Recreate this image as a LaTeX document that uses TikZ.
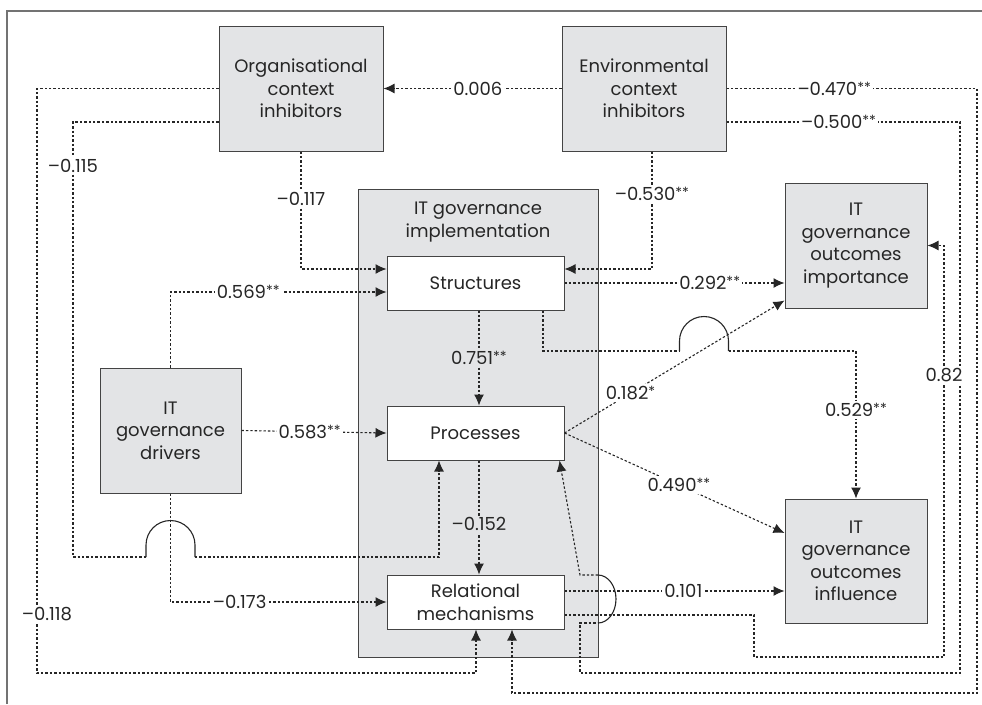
\documentclass[tikz,border=0pt]{standalone}
\usepackage{fontspec}
\setmainfont{Poppins}
\usetikzlibrary{arrows.meta,calc}
\definecolor{boxgrey}{RGB}{227,228,230}
\definecolor{boxline}{RGB}{68,68,68}
\definecolor{txtgrey}{RGB}{38,38,38}
\newcommand{\sig}[1]{\raisebox{3pt}{\fontsize{14}{14}\selectfont #1}}

\tikzset{
    box/.style={draw=boxline, fill=boxgrey, line width=1pt, align=center, inner sep=0pt},
    inbox/.style={draw=boxline, fill=white, line width=1pt, align=center, inner sep=0pt,
        minimum width=177pt, minimum height=54pt},
    link/.style={line width=1.1pt, dash pattern=on 2.4pt off 2pt, txtgrey},
    arr/.style={-{Latex[length=11pt,width=10pt]}},
    hop/.style={line width=1.1pt, txtgrey},
    lbl/.style={fill=white, inner sep=2pt},
    lblin/.style={fill=boxgrey, inner sep=2pt},
}

\begin{document}
\begin{tikzpicture}[x=1pt, y=-1pt,
    every node/.style={font=\fontsize{18}{22.5}\selectfont, text=txtgrey}]
    \useasboundingbox (0,0) rectangle (982,704);
    \draw[line width=1.2pt, black!55] (7,704) -- (7,11) -- (982,11);

    % context and drivers
    \node[box, minimum width=164pt, minimum height=125pt] (org) at (301,88.5) {Organisational\\context\\inhibitors};
    \node[box, minimum width=164pt, minimum height=125pt] (env) at (644,88.5) {Environmental\\context\\inhibitors};
    \node[box, minimum width=141pt, minimum height=125pt] (drv) at (170.5,430.5) {IT\\governance\\drivers};

    % outcomes
    \node[box, minimum width=142pt, minimum height=125pt] (imp) at (856,245.5) {IT\\governance\\outcomes\\importance};
    \node[box, minimum width=142pt, minimum height=124pt] (inf) at (856,561) {IT\\governance\\outcomes\\influence};

    % implementation
    \node[box, minimum width=240pt, minimum height=468pt] (impl) at (478,423) {};
    \node[align=center] (impltitle) at (478,222) {IT governance\\implementation};
    \node[inbox] (str) at (475.5,283) {Structures};
    \node[inbox] (pro) at (475.5,433) {Processes};
    \node[inbox] (rel) at (475.5,602) {Relational\\mechanisms};

    % hops
    \coordinate (hopA) at (170.5,557);
    \coordinate (hopB) at (704,351);
    \coordinate (hopC) at (598,599);

    \draw[link, arr] (env.west) -- node[lbl, pos=0.47] {0.006} (org.east);
    \draw[link, arr] (org.south) |- node[lbl, pos=0.2] {–0.117} ([yshift=14pt]str.west);
    \draw[link, arr] (drv.north) |- node[lbl, pos=0.68] {0.569\sig{**}} ([yshift=-9pt]str.west);
    \draw[link, arr] (drv.east) -- node[lbl, pos=0.47] {0.583\sig{**}} (pro.west);
    \draw[link, arr] (drv.south) |- node[lbl, pos=0.66] {–0.173} (rel.west);

    % org to processes, over the drivers line
    \draw[link] ([yshift=-33.5pt]org.west) -- (73,122) -- node[lbl, pos=0.1] {–0.115} (73,557) -- ($(hopA)+(-24.5,0)$);
    \draw[hop] ($(hopA)+(-24.5,0)$) -- ++(0,-12) arc[start angle=180, end angle=0, radius=24.5pt] -- ($(hopA)+(24.5,0)$);
    \draw[link, arr] ($(hopA)+(24.5,0)$) -| ([xshift=-36.5pt]pro.south);

    \draw[link, arr] (org.west) -- (37,88.5) -- node[lbl, pos=0.9, xshift=10pt] {–0.118} (37,673) -| ([xshift=0.5pt]rel.south);

    \draw[link, arr] ([xshift=8pt]env.south) |- node[lbl, pos=0.18] {–0.530\sig{**}} ([yshift=14pt]str.east);
    \draw[link, arr] (env.east) -- node[lbl, pos=0.43] {–0.470\sig{**}} (977,88.5) -- (977,693) -| ([xshift=36.5pt]rel.south);

    % env to processes, over the relational lines
    \draw[link] ([yshift=-33.5pt]env.east) -- node[lbl, pos=0.48] {–0.500\sig{**}} (960,122) -- (960,673) -- (580,673) -- (580,623) -- ($(hopC)+(0,24)$);
    \draw[hop] ($(hopC)+(0,24)$) arc[start angle=-90, end angle=90, x radius=18pt, y radius=24pt];
    \draw[link, arr] ($(hopC)+(0,-24)$) -- (580,575) -- ([xshift=-5pt]pro.south east);

    \draw[link, arr] (str.east) -- node[lbl, pos=0.66] {0.292\sig{**}} (str.east -| imp.west);

    % structures to influence, over the 0.182 line
    \draw[link] ([xshift=67.5pt]str.south) |- ($(hopB)+(-24.5,0)$);
    \draw[hop] ($(hopB)+(-24.5,0)$) -- ++(0,-10) arc[start angle=180, end angle=0, radius=24.5pt] -- ($(hopB)+(24.5,0)$);
    \draw[link, arr] ($(hopB)+(24.5,0)$) -| node[lbl, pos=0.7] {0.529\sig{**}} (inf.north);

    \draw[link, arr] ([xshift=3.5pt]str.south) -- node[lblin] {0.751\sig{**}} ([xshift=3.5pt]pro.north);
    \draw[link, arr] (pro.east) -- node[lbl, pos=0.3] {0.182\sig{*}} ([yshift=8pt]imp.south west);
    \draw[link, arr] (pro.east) -- node[lbl, pos=0.52] {0.490\sig{**}} ([yshift=28pt]inf.west);
    \draw[link, arr] ([xshift=3.5pt]pro.south) -- node[lblin, pos=0.56] {–0.152} ([xshift=3.5pt]rel.north);

    \draw[link, arr] ([yshift=11pt]rel.east) -- node[lbl, pos=0.54] {0.101} ([yshift=11pt]rel.east -| inf.west);
    \draw[link, arr] ([yshift=-13pt]rel.east) -- (754,615) -- (754,657) -- (944,657) -- node[lbl, pos=0.685] {0.82} (944,245.5) -- (imp.east);
\end{tikzpicture}
\end{document}
